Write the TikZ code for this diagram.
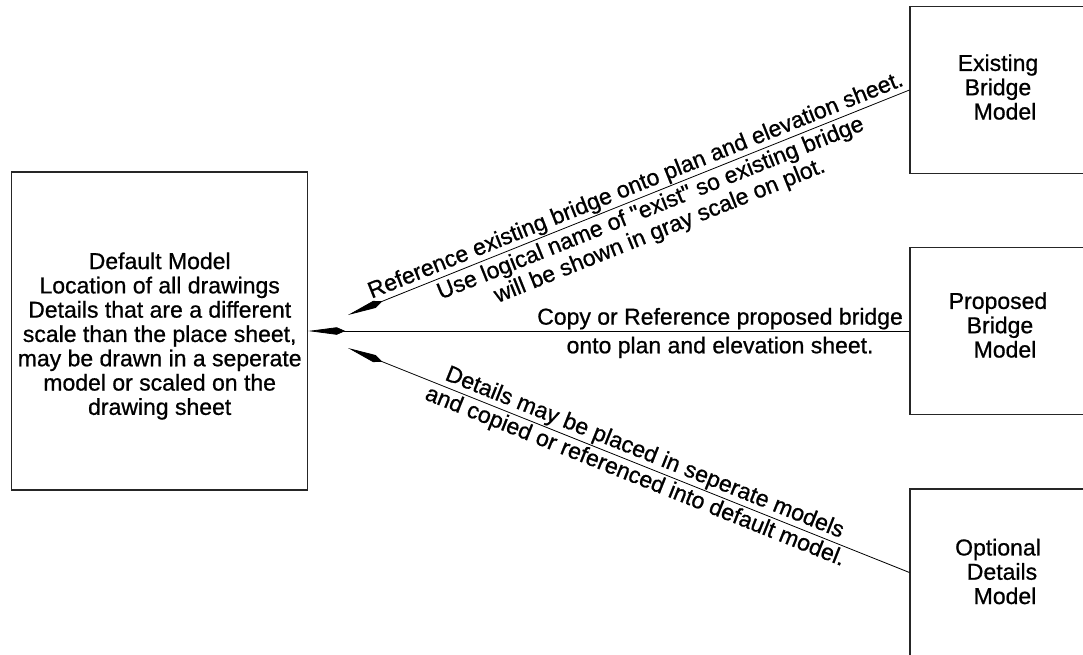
\documentclass[tikz,border=0pt]{standalone}
\usepackage{fontspec}
\newfontfamily\labelfont{Liberation Sans}[FakeBold=0.8]
\usetikzlibrary{arrows.meta, calc}
\begin{document}
\begin{tikzpicture}[x=1pt, y=-1pt,
  every node/.style={font=\labelfont\fontsize{23pt}{24.3pt}\selectfont},
  modelbox/.style={draw=black!85, line width=1.1pt, minimum width=176pt,
                   minimum height=167pt, inner sep=0pt},
  boxtext/.style={align=center, inner sep=0pt},
  note/.style={align=center, inner sep=1.2pt},
  link/.style={draw=black, line width=0.8pt},
  kitehead/.style={arrows={Kite[length=37pt,width=7.5pt,inset=8.5pt]-}},
]
\useasboundingbox (0,0) rectangle (1083,654);
\clip (0,0) rectangle (1083,654);

% model boxes
\node[modelbox, minimum width=296pt, minimum height=318pt] (default) at (159.7,331) {};
\node[boxtext] (defaulttxt) at ($(default.center)+(0,5)$)
  {Default Model\\Location of all drawings\\Details that are a different\\
   scale than the place sheet,\\may be drawn in a seperate\\model or scaled on the\\drawing sheet};

\node[modelbox] (exist) at (998,90) {};
\node[boxtext] (existtxt) at ($(exist.center)+(0,-3)$) {Existing\\Bridge\\\hspace*{14pt}Model};

\node[modelbox] (prop) at (998,331) {};
\node[boxtext] (proptxt) at ($(prop.center)+(0,-6)$) {Proposed\\\hspace*{4pt}Bridge\\\hspace*{14pt}Model};

\node[modelbox] (opt) at (998,572.5) {};
\node[boxtext] (opttxt) at ($(opt.center)+(0,-1)$) {Optional\\\hspace*{8pt}Details\\\hspace*{14pt}Model};

% free ends of the slanted leaders
\coordinate (tipA) at (348,315);
\coordinate (tipB) at (348,348);

% leaders with their notes
\draw[link, kitehead] (tipA) --
  node[note, sloped, above, pos=0.521] {Reference existing bridge onto plan and elevation sheet.}
  node[note, sloped, below=2pt, pos=0.53] {Use logical name of "exist" so existing bridge\\will be shown in gray scale on plot.}
  (exist.west);

\draw[link, kitehead] (default.east) --
  node[note, above, pos=0.685] {Copy or Reference proposed bridge}
  node[note, below=4pt, pos=0.685] {onto plan and elevation sheet.}
  (prop.west);

\draw[link, kitehead] (tipB) --
  node[note, sloped, above, pos=0.52] {Details may be placed in seperate models}
  node[note, sloped, below=1pt, pos=0.52] {and copied or referenced into default model.}
  (opt.west);
\end{tikzpicture}
\end{document}
